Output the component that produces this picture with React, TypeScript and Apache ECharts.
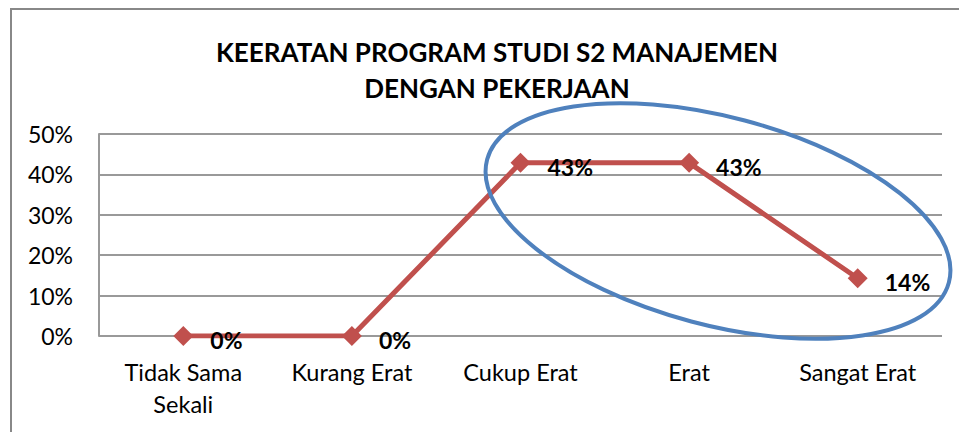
import React, { useEffect, useRef } from "react";
import * as echarts from "echarts";

const categories = ["Tidak Sama\nSekali", "Kurang Erat", "Cukup Erat", "Erat", "Sangat Erat"];
const values = [0, 0, 42.86, 42.86, 14.29];
const yTicks = [0, 10, 20, 30, 40, 50];
const titleText = "KEERATAN PROGRAM STUDI S2 MANAJEMEN\nDENGAN PEKERJAAN";

const FONT = "Lato";

export default function App() {
  const ref = useRef<HTMLDivElement>(null);
  useEffect(() => {
    if (!ref.current) return;
    const chart = echarts.init(ref.current, undefined, { renderer: "svg" });
    chart.setOption({
      animation: false,
      backgroundColor: "#ffffff",
      title: {
        text: titleText,
        left: 492,
        textAlign: "center",
        top: 29,
        textStyle: {
          fontFamily: FONT,
          fontWeight: "bold",
          fontSize: 26,
          lineHeight: 36,
          color: "#000",
        },
      },
      grid: { left: 99, right: 17, top: 134, bottom: 96, containLabel: false },
      xAxis: {
        type: "category",
        data: categories,
        boundaryGap: true,
        axisLine: { show: false },
        axisTick: { show: false },
        axisLabel: {
          fontFamily: FONT,
          fontSize: 23.5,
          lineHeight: 32,
          color: "#000",
          margin: 20,
          interval: 0,
        },
      },
      yAxis: {
        type: "value",
        min: yTicks[0],
        max: yTicks[yTicks.length - 1],
        interval: 10,
        axisLine: { show: true, lineStyle: { color: "#999", width: 2 } },
        axisTick: { show: false },
        splitLine: { show: true, lineStyle: { color: "#999", width: 2 } },
        axisLabel: {
          formatter: (v: number) => v + "%",
          fontFamily: FONT,
          fontSize: 23,
          color: "#000",
          margin: 26,
        },
      },
      series: [
        {
          type: "line",
          data: values,
          symbol: "diamond",
          symbolSize: 20,
          lineStyle: { color: "#C0504D", width: 5 },
          itemStyle: { color: "#C0504D" },
          label: {
            show: true,
            position: "right",
            distance: 17,
            formatter: (p: any) => Math.round(p.value) + "%",
            fontFamily: FONT,
            fontWeight: "bold",
            fontSize: 23,
            color: "#000",
            offset: [0, 4],
          },
        },
      ],
      graphic: [
        {
          type: "rect",
          shape: { x: 11, y: 9, width: 1000, height: 500 },
          style: { fill: "none", stroke: "#888", lineWidth: 2 },
          silent: true,
          z: -1,
        },
        {
          type: "ellipse",
          x: 718,
          y: 221,
          rotation: -0.26,
          shape: { cx: 0, cy: 0, rx: 239, ry: 104 },
          style: { fill: "none", stroke: "#4F81BD", lineWidth: 4 },
          silent: true,
          z: 100,
        },
      ],
    });
    return () => chart.dispose();
  }, []);
  return (
    <div
      ref={ref}
      style={{ position: "fixed", left: 0, top: 0, width: 959, height: 432 }}
    />
  );
}
